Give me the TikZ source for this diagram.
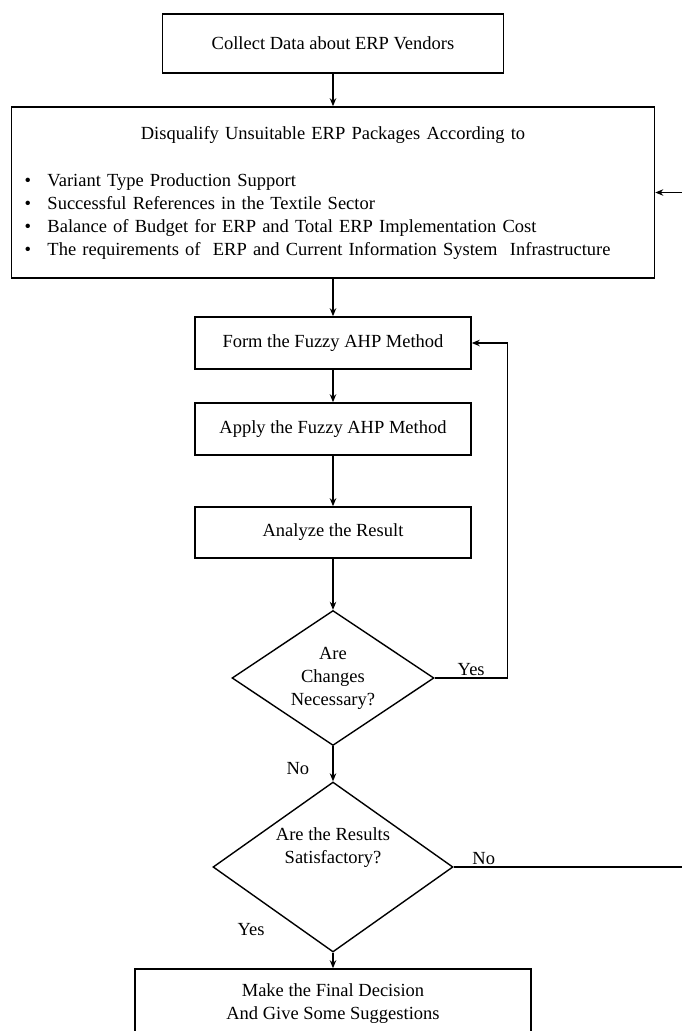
\documentclass[tikz,border=0pt]{standalone}
\usepackage{fontspec}
\setmainfont{Liberation Serif}
\usetikzlibrary{shapes.geometric,arrows.meta}

\begin{document}
\begin{tikzpicture}[-,>={Stealth[length=8pt,width=6.5pt]},x=1pt,y=1pt,line width=1.1pt,node distance=100pt,
    every node/.style={font=\fontsize{18.5}{23}\selectfont},
    box/.style={rectangle,draw,line width=1.6pt,align=center,minimum width=276pt,minimum height=52pt},
    decision/.style={diamond,draw,line width=1.4pt,align=center,inner sep=0pt,shape aspect=1.5}]

            \useasboundingbox (0,0) rectangle (682,-1031);

            \node[box, minimum width=341pt, minimum height=59pt] (collect) at (333,-43.5) {Collect Data about ERP Vendors};
            \node[box, minimum width=643pt, minimum height=171pt, text width=617pt, inner xsep=13pt, align=left] (disq) [below of = collect, node distance=149pt] {%
                {\centering Disqualify Unsuitable ERP Packages According to\par}
                \vspace{24pt}
                \makebox[23pt][l]{\textbullet}Variant Type Production Support\\
                \makebox[23pt][l]{\textbullet}Successful References in the Textile Sector\\
                \makebox[23pt][l]{\textbullet}Balance of Budget for ERP and Total ERP Implementation Cost\\
                \makebox[23pt][l]{\textbullet}The requirements of \ ERP and Current Information System \ Infrastructure};
            \node[box] (form) [below of = disq, node distance=150.5pt] {Form the Fuzzy AHP Method};
            \node[box] (apply) [below of = form, node distance=86pt] {Apply the Fuzzy AHP Method};
            \node[box, minimum height=51pt] (analyze) [below of = apply, node distance=103.5pt] {Analyze the Result};
            \node[decision, minimum width=202pt, minimum height=135pt] (chg) [below of = analyze, node distance=145.5pt] {Are\\Changes\\Necessary?};
            \node[decision, minimum width=240pt, minimum height=170pt] (sat) [below of = chg, node distance=189pt] {};
            \node[align=center] (satText) [above of = sat, node distance=19pt] {Are the Results\\Satisfactory?};
            \node[box, minimum width=396pt, minimum height=70pt] (final) [below of = sat, node distance=137pt] {Make the Final Decision\\And Give Some Suggestions};

            \draw[->] (collect) to (disq);
            \draw[->] (disq) to (form);
            \draw[->] (form) to (apply);
            \draw[->] (apply) to (analyze);
            \draw[->] (analyze) to (chg);
            \draw[->] (chg) -- node[pos=0.65, left=20pt] {No} (sat);
            \draw[->] (sat) -- node[pos=0, xshift=-82pt, yshift=23pt] {Yes} (final);
            % loops back on the right
            \draw[->] (chg.east) -- node[above, inner sep=2pt] {Yes} ++(73pt,0) |- (form.east);
            \draw[->] (sat.east) -- node[pos=0.125, above, inner sep=2pt] {No} ++(240pt,0) |- (disq.east);

        \end{tikzpicture}
\end{document}
